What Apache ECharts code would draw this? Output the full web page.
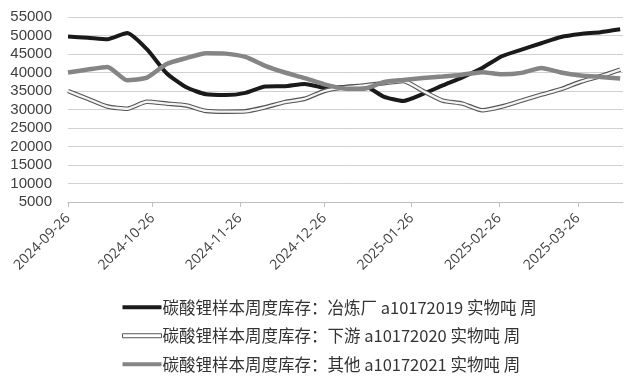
<!DOCTYPE html>
<html>
<head>
<meta charset="utf-8">
<script src="https://cdn.jsdelivr.net/npm/echarts@6/dist/echarts.min.js"></script>
<style>
html,body{margin:0;padding:0;background:#fff;}
#chart{width:634px;height:387px;}
</style>
</head>
<body>
<div id="chart"></div>
<script>
// Weekly dates
const dates = [
  '2024-09-26','2024-10-03','2024-10-10','2024-10-17','2024-10-24','2024-10-31',
  '2024-11-07','2024-11-14','2024-11-21','2024-11-28','2024-12-05','2024-12-12',
  '2024-12-19','2024-12-26','2025-01-02','2025-01-09','2025-01-16','2025-01-23',
  '2025-01-30','2025-02-06','2025-02-13','2025-02-20','2025-02-27','2025-03-06',
  '2025-03-13','2025-03-20','2025-03-27','2025-04-03','2025-04-10'
];
// Axis tick labels
const tickDates = ['2024-09-26','2024-10-26','2024-11-26','2024-12-26','2025-01-26','2025-02-26','2025-03-26'];
const axisStart = '2024-09-26';
const axisEnd = '2025-04-11';

// Series names
const nameSmelter = '碳酸锂样本周度库存：冶炼厂 a10172019 实物吨 周';
const nameDownstream = '碳酸锂样本周度库存：下游 a10172020 实物吨 周';
const nameOther = '碳酸锂样本周度库存：其他 a10172021 实物吨 周';

// Values
const smelter = [49700,49400,49000,50700,46300,39800,36000,34100,33900,34500,36200,36300,36900,35900,
                 36100,36400,33500,32300,34200,36500,38700,41200,44400,46200,47900,49600,50400,50900,51700];
const downstream = [35000,32900,30800,30200,32100,31600,31100,29600,29400,29500,30600,32000,32900,35000,
                    36000,36500,37100,37700,35000,32400,31600,29800,30800,32400,34000,35500,37500,39000,40800];
const other = [40000,40800,41500,37900,38600,42300,43900,45200,45100,44200,41800,40000,38500,36800,
               35700,35600,37400,38000,38500,38900,39400,40100,39500,39900,41200,40000,39200,38800,38400];

const yMin = 5000, yMax = 55000, yStep = 5000;

const DAY = 86400000;
const base = Date.UTC(2024, 8, 26);
function day(s){ const [y,m,d] = s.split('-').map(Number); return Math.round((Date.UTC(y,m-1,d) - base)/DAY); }
function pairs(vals){ return dates.map((d,i)=>[day(d), vals[i]]); }
function fmt(v){
  const d = new Date(base + Math.round(v)*DAY);
  const p = n => (n<10?'0':'')+n;
  return d.getUTCFullYear()+'-'+p(d.getUTCMonth()+1)+'-'+p(d.getUTCDate());
}

const chart = echarts.init(document.getElementById('chart'));
chart.setOption({
  animation:false,
  backgroundColor:'#fff',
  grid:{left:68, right:11, top:17, bottom:185},
  xAxis:{
    type:'value',
    min:day(axisStart), max:day(axisEnd),
    axisLine:{show:true, onZero:false, lineStyle:{color:'#bfbfbf', width:1}},
    axisTick:{show:true, length:5, lineStyle:{color:'#bfbfbf'}, customValues: tickDates.map(day)},
    axisLabel:{
      customValues: tickDates.map(day),
      formatter: v => fmt(v),
      rotate:45, color:'#404040', fontSize:14, margin:14,
      fontFamily:'"Open Sans", "Liberation Sans", sans-serif'
    },
    splitLine:{show:false}
  },
  yAxis:{
    type:'value', min:yMin, max:yMax, interval:yStep,
    axisLine:{show:false}, axisTick:{show:false},
    axisLabel:{color:'#404040', fontSize:15, margin:16, formatter: v => String(v),
      fontFamily:'"Liberation Sans", Arial, sans-serif'},
    splitLine:{lineStyle:{color:'#d0d0d0', width:1}}
  },
  legend:{
    orient:'vertical', left:122, top:299, itemGap:12, padding:0,
    itemWidth:39, itemHeight:4,
    textStyle:{color:'#333', fontSize:16.5, padding:[0,0,0,-4],
      fontFamily:'"Noto Sans CJK SC", "Liberation Sans", sans-serif'},
    data:[
      {name:nameSmelter, icon:'rect', itemStyle:{color:'#1a1a1a'}},
      {name:nameDownstream, icon:'rect', itemStyle:{color:'#ffffff', borderColor:'#555', borderWidth:1}},
      {name:nameOther, icon:'rect', itemStyle:{color:'#858585'}}
    ]
  },
  series:[
    {name:nameSmelter, type:'line', data:pairs(smelter), smooth:0.2, showSymbol:false,
     lineStyle:{color:'#1a1a1a', width:4}, itemStyle:{color:'#1a1a1a'}, z:2},
    {name:'outline', type:'line', data:pairs(downstream), smooth:0.2, showSymbol:false,
     lineStyle:{color:'#555555', width:4.5}, z:3, legendHoverLink:false},
    {name:nameDownstream, type:'line', data:pairs(downstream), smooth:0.2, showSymbol:false,
     lineStyle:{color:'#f4f4f4', width:2.3}, itemStyle:{color:'#ffffff'}, z:4},
    {name:nameOther, type:'line', data:pairs(other), smooth:0.2, showSymbol:false,
     lineStyle:{color:'#858585', width:4.5}, itemStyle:{color:'#858585'}, z:5}
  ]
});
</script>
</body>
</html>
